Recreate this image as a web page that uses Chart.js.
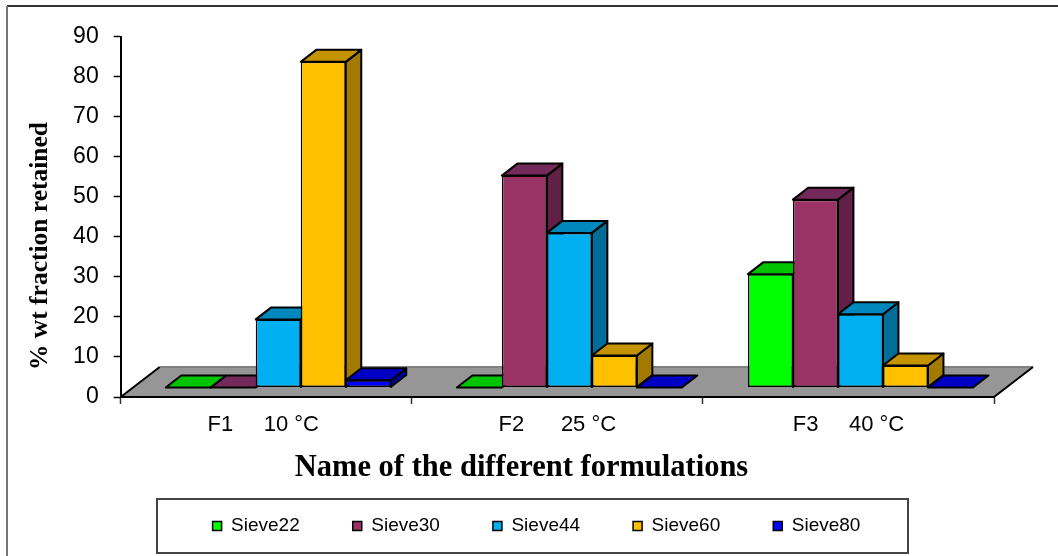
<!DOCTYPE html>
<html>
<head>
<meta charset="utf-8">
<title>Sieve fractions</title>
<script src="https://cdn.jsdelivr.net/npm/chart.js@4"></script>
<style>
  html, body { margin: 0; padding: 0; background: #fff; }
  #chart-container { position: relative; width: 1058px; height: 556px; }
  canvas { display: block; }
</style>
</head>
<body>
<div id="chart-container"><canvas id="sieveChart" width="1058" height="556"></canvas></div>
<script>
const categories = ['F1     10 °C ', 'F2      25 °C', 'F3     40 °C'];
const sieve22 = [0, 0, 28.3];
const sieve30 = [0, 52.9, 46.9];
const sieve44 = [17, 38.6, 18.3];
const sieve60 = [81.3, 8, 5.5];
const sieve80 = [1.8, 0, 0];

const seriesNames = ['Sieve22', 'Sieve30', 'Sieve44', 'Sieve60', 'Sieve80'];
const seriesValues = [sieve22, sieve30, sieve44, sieve60, sieve80];
const frontColors = ['#00FF00', '#993366', '#00B0F0', '#FFC000', '#0000FF'];
const topColors = ['#00C400', '#732A5A', '#0087BB', '#C49300', '#0000C4'];
const sideColors = ['#00A000', '#612045', '#006E99', '#A37A00', '#0000A0'];

// floor and bar depth for the fake 3D look
const floorDepth = { x: 39, y: 30 };
const barOffset = { x: 12, y: -9.5 };
const barDepth = { x: 15.5, y: -12 };

function face(ctx, points, fill) {
  ctx.beginPath();
  points.forEach((p, i) => (i ? ctx.lineTo(p[0], p[1]) : ctx.moveTo(p[0], p[1])));
  ctx.closePath();
  ctx.fillStyle = fill;
  ctx.fill();
  ctx.stroke();
}

const box3d = {
  id: 'box3d',
  beforeDraw(chart) {
    const { ctx, chartArea: a } = chart;
    const d = floorDepth;
    ctx.save();
    // page frame
    ctx.strokeStyle = '#333';
    ctx.lineWidth = 2;
    ctx.beginPath();
    ctx.moveTo(1058, 6);
    ctx.lineTo(7, 6);
    ctx.stroke();
    ctx.strokeStyle = '#777';
    ctx.beginPath();
    ctx.moveTo(7, 6);
    ctx.lineTo(7, 556);
    ctx.stroke();
    // floor
    ctx.beginPath();
    ctx.moveTo(a.left, a.bottom);
    ctx.lineTo(a.left + d.x, a.bottom - d.y);
    ctx.lineTo(a.right + d.x, a.bottom - d.y);
    ctx.lineTo(a.right, a.bottom);
    ctx.closePath();
    ctx.fillStyle = '#969696';
    ctx.fill();
    ctx.strokeStyle = '#808080';
    ctx.beginPath();
    ctx.moveTo(a.left + d.x, a.bottom - d.y);
    ctx.lineTo(a.right + d.x, a.bottom - d.y);
    ctx.stroke();
    ctx.strokeStyle = '#000';
    ctx.beginPath();
    ctx.moveTo(a.left, a.bottom);
    ctx.lineTo(a.left + d.x, a.bottom - d.y);
    ctx.moveTo(a.right, a.bottom);
    ctx.lineTo(a.right + d.x, a.bottom - d.y);
    ctx.stroke();
    // legend frame
    ctx.strokeStyle = '#444';
    ctx.strokeRect(157, 499, 751, 54);
    ctx.restore();
  },
  beforeDatasetsDraw(chart) {
    // left series first, so each box covers the side of the one before it
    const { ctx } = chart;
    seriesNames.forEach((name, i) => {
      const meta = chart.getDatasetMeta(i);
      ctx.save();
      ctx.translate(barOffset.x, barOffset.y);
      ctx.strokeStyle = '#000';
      ctx.lineWidth = 2;
      ctx.lineJoin = 'round';
      meta.data.forEach(el => {
        const l = el.x - el.width / 2;
        const r = el.x + el.width / 2;
        const t = el.y;
        const b = el.base;
        const dx = barDepth.x;
        const dy = barDepth.y;
        if (b - t > 0.5) {
          face(ctx, [[r, t], [r + dx, t + dy], [r + dx, b + dy], [r, b]], sideColors[i]);
        }
        face(ctx, [[l, t], [l + dx, t + dy], [r + dx, t + dy], [r, t]], topColors[i]);
      });
      meta.controller.draw();
      ctx.restore();
    });
    return false;
  },
  afterLayout(chart) {
    // legend row sits in its own frame below the plot
    const lg = chart.legend;
    const h = lg.bottom - lg.top;
    lg.left += 27;
    lg.right += 27;
    lg.top = 463.5;
    lg.bottom = lg.top + h;
  },
  afterDraw(chart) {
    const { ctx } = chart;
    ctx.save();
    ctx.fillStyle = '#000';
    ctx.textAlign = 'center';
    ctx.textBaseline = 'middle';
    ctx.font = 'bold 30.5px "Liberation Serif"';
    ctx.fillText('Name of the different formulations', 521.5, 468);
    ctx.translate(40, 246);
    ctx.rotate(-Math.PI / 2);
    ctx.font = 'bold 25.5px "Liberation Serif"';
    ctx.fillText('% wt fraction retained', 0, 0);
    ctx.restore();
  }
};

new Chart(document.getElementById('sieveChart'), {
  type: 'bar',
  plugins: [box3d],
  data: {
    labels: categories,
    datasets: seriesNames.map((name, i) => ({
      label: name,
      data: seriesValues[i],
      backgroundColor: frontColors[i],
      borderColor: '#000',
      borderWidth: 1.5,
      borderSkipped: false,
      categoryPercentage: 0.773,
      barPercentage: 1
    }))
  },
  options: {
    responsive: false,
    animation: false,
    events: [],
    layout: { padding: { left: 25, right: 64, top: 36.5, bottom: 0 } },
    plugins: {
      tooltip: { enabled: false },
      legend: {
        position: 'bottom',
        labels: {
          boxWidth: 9,
          boxHeight: 9,
          padding: 53,
          color: '#000',
          font: { family: '"Liberation Sans"', size: 19 }
        }
      }
    },
    scales: {
      x: {
        afterFit(axis) { axis.height = 77; },
        grid: { drawOnChartArea: false, tickLength: 7, tickColor: '#333', tickWidth: 1.5 },
        border: { color: '#000', width: 2 },
        ticks: {
          color: '#000',
          padding: 8,
          maxRotation: 0,
          font: { family: '"Liberation Sans"', size: 22 }
        }
      },
      y: {
        min: 0,
        max: 90,
        afterFit(axis) { axis.width = 95.7; },
        grid: { drawOnChartArea: false, tickLength: 7, tickColor: '#000', tickWidth: 1.5 },
        border: { color: '#000', width: 2 },
        ticks: {
          stepSize: 10,
          color: '#000',
          padding: 15,
          font: { family: '"Liberation Sans"', size: 23 }
        }
      }
    }
  }
});
</script>
</body>
</html>
